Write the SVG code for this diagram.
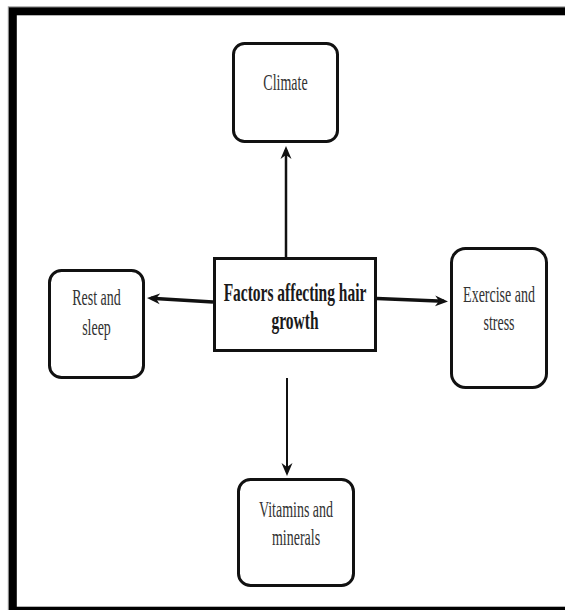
<svg xmlns="http://www.w3.org/2000/svg" width="565" height="610" viewBox="0 0 565 610">
  <defs>
    <style>
      .frame { fill: none; stroke: #000; stroke-width: 8; }
      .frame-edge { fill: none; stroke: #999; stroke-width: 1; }
      .box { fill: #fff; stroke: #111; stroke-width: 3; }
      .label { font-family: "Liberation Serif", "Times New Roman", serif; font-size: 14px; fill: #333; text-anchor: middle; }
      .title { font-family: "Liberation Serif", "Times New Roman", serif; font-size: 15.5px; font-weight: bold; fill: #1a1a1a; text-anchor: middle; }
      .conn { fill: none; stroke: #111; }
    </style>
    <marker id="arrow" markerUnits="userSpaceOnUse" markerWidth="14" markerHeight="12" refX="9" refY="6" orient="auto">
      <path d="M0,0.5 L13,6 L0,11.5 L4,6 Z" fill="#111"/>
    </marker>
  </defs>

  <rect width="565" height="610" fill="#fff"/>

  <!-- outer frame -->
  <rect class="frame-edge" x="8.3" y="6.8" width="600" height="610"/>
  <rect class="frame" x="12.8" y="11.3" width="600" height="599.4"/>

  <!-- connectors -->
  <g id="connectors">
    <path class="conn" d="M286,257 L286,150" stroke-width="2.5" marker-end="url(#arrow)"/>
    <path class="conn" d="M287,378 L287,472" stroke-width="2" marker-end="url(#arrow)"/>
    <path class="conn" d="M377,298.5 L444,301.3" stroke-width="3.5" marker-end="url(#arrow)"/>
    <path class="conn" d="M213,302 L151,298.3" stroke-width="3.5" marker-end="url(#arrow)"/>
  </g>

  <g id="node-climate">
    <rect class="box" x="233.5" y="43.5" width="104" height="98" rx="11"/>
    <text class="label" transform="translate(285.5,90) scale(1,1.6)">Climate</text>
  </g>

  <g id="node-factors">
    <rect class="box" x="214.5" y="258.5" width="161" height="92"/>
    <text class="title" transform="translate(295,301) scale(1,1.6)">Factors affecting hair</text>
    <text class="title" transform="translate(295,329) scale(1,1.6)">growth</text>
  </g>

  <g id="node-rest">
    <rect class="box" x="49.5" y="270.5" width="94" height="107" rx="12"/>
    <text class="label" transform="translate(96.5,305) scale(1,1.6)">Rest and</text>
    <text class="label" transform="translate(96.5,335) scale(1,1.6)">sleep</text>
  </g>

  <g id="node-exercise">
    <rect class="box" x="451.5" y="248.5" width="95" height="139" rx="14"/>
    <text class="label" transform="translate(499,302) scale(1,1.6)">Exercise and</text>
    <text class="label" transform="translate(499,330) scale(1,1.6)">stress</text>
  </g>

  <g id="node-vitamins">
    <rect class="box" x="238.5" y="479.5" width="115" height="106" rx="12"/>
    <text class="label" transform="translate(296,517) scale(1,1.6)">Vitamins and</text>
    <text class="label" transform="translate(296,545) scale(1,1.6)">minerals</text>
  </g>
</svg>
